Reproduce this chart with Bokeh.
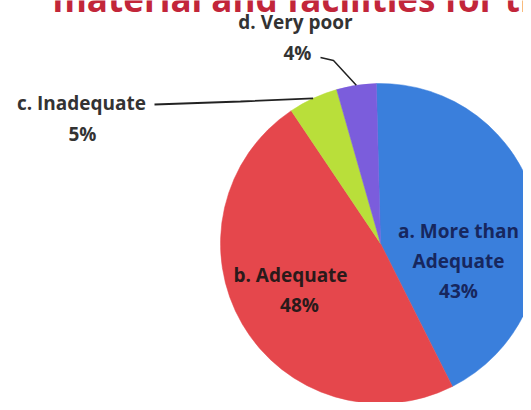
import numpy as np
from bokeh.plotting import figure
from bokeh.models import Range1d
from bokeh.core.properties import value
from bokeh.embed import file_html
from bokeh.resources import INLINE

# data
categories = ["a. More than Adequate", "b. Adequate", "c. Inadequate", "d. Very poor"]
percents = [43, 48, 5, 4]
colors = ["#3a7fdc", "#e5474c", "#b9df3a", "#7b5ddc"]
title_text = "material and facilities for the"

W, H = 523, 402
p = figure(width=W, height=H, output_backend="svg", toolbar_location=None,
           x_range=Range1d(0, W), y_range=Range1d(0, H),
           x_axis_location=None, y_axis_location=None, min_border=0)
p.grid.visible = False
p.outline_line_color = None
p.background_fill_color = "white"

def Y(ypage):
    return H - ypage

cx, cy, r = 380, Y(243), 160
frac = np.array(percents, dtype=float) / sum(percents)
ends = 2 * np.pi * np.cumsum(frac)
starts = np.concatenate([[0], ends[:-1]])
offset = np.pi / 2 + np.deg2rad(1.5)
start_angles = offset - starts
end_angles = offset - ends
p.wedge(x=cx, y=cy, radius=r, radius_units="screen",
        start_angle=list(start_angles), end_angle=list(end_angles), direction="clock",
        fill_color=colors, line_color=colors, line_width=0.5)

# title (cut off at top, as in the reference)
p.text(x=[52], y=[Y(-2)], text=[title_text], text_font=value("Open Sans"),
       text_font_size="35px", text_font_style="bold", text_color="#c2263a",
       text_baseline="alphabetic", text_align="left")

# inside labels
p.text(x=[458, 458, 458], y=[Y(230), Y(260), Y(290)],
       text=["a. More than", "Adequate", f"{percents[0]}%"],
       text_font=value("Open Sans"), text_font_size="19px", text_font_style="bold",
       text_color="#17275e", text_align="center", text_baseline="middle")
p.text(x=[290, 299], y=[Y(274), Y(304)],
       text=["b. Adequate", f"{percents[1]}%"],
       text_font=value("Open Sans"), text_font_size="19px", text_font_style="bold",
       text_color="#2a1a1a", text_align="center", text_baseline="middle")

# outside labels
p.text(x=[81, 82], y=[Y(102), Y(133)], text=["c. Inadequate", f"{percents[2]}%"],
       text_font=value("Open Sans"), text_font_size="19px",
       text_font_style="bold", text_color="#333333",
       text_align="center", text_baseline="middle")
p.text(x=[295, 297], y=[Y(21), Y(52)], text=["d. Very poor", f"{percents[3]}%"],
       text_font=value("Open Sans"), text_font_size="19px",
       text_font_style="bold", text_color="#333333",
       text_align="center", text_baseline="middle")

# leader lines to slice mid-angles
mid = offset - (starts + ends) / 2
ex = cx + r * np.cos(mid)
ey = cy + r * np.sin(mid)
p.line(x=[154, 240, ex[2]], y=[Y(104), Y(101), ey[2]], line_color="#222222", line_width=1.8)
p.line(x=[320, 333, ex[3]], y=[Y(57), Y(60), ey[3]], line_color="#222222", line_width=1.5)

open("out.html", "w").write(file_html(p, INLINE))
